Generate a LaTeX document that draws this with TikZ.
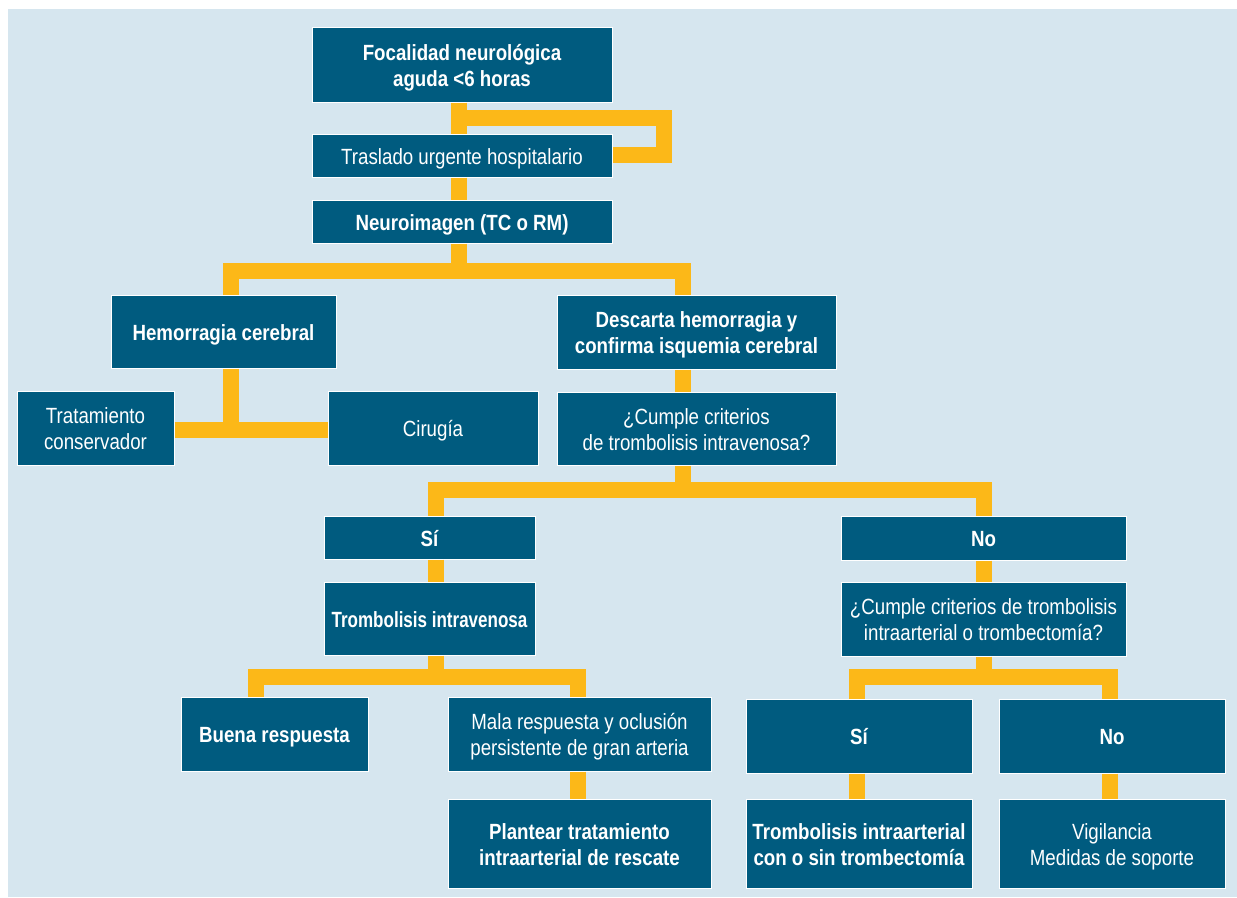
\documentclass[tikz,border=0pt]{standalone}
\usepackage{graphicx}
\usepackage{fontspec}
\setmainfont[FakeStretch=0.85]{Liberation Sans}
\definecolor{bgcol}{RGB}{214,230,239}
\definecolor{boxblue}{RGB}{0,91,127}
\definecolor{conn}{RGB}{252,184,24}
\begin{document}
\begin{tikzpicture}[x=1pt,y=-1pt,
  box/.style={fill=boxblue, draw=white, line width=1pt, text=white, align=center,
    inner sep=0pt, font=\fontsize{22}{26}\selectfont,
    execute at begin node={\rule{0pt}{24pt}},
    execute at end node={\rule[-7pt]{0pt}{0pt}}},
  boxb/.style={box, font=\fontsize{22}{26}\selectfont\bfseries},
  ml/.style={execute at begin node={\rule{0pt}{50pt}}},
  link/.style={draw=conn, line width=15.5pt, line join=miter, line cap=butt}]
\fill[white] (0,0) rectangle (1237,897);
\useasboundingbox (0,0) rectangle (1237,897);
\fill[bgcol] (8,9) rectangle (1237,897);

% x positions of connectors
\coordinate (xA) at (459,0);
\coordinate (xB) at (231,0);
\coordinate (xC) at (683,0);
\coordinate (xD) at (436,0);
\coordinate (xE) at (984,0);
\coordinate (xF) at (256,0);
\coordinate (xG) at (578,0);
\coordinate (xH) at (857,0);
\coordinate (xI) at (1110,0);

% nodes
\node[boxb, ml, minimum width=300, minimum height=75] (foc) at (462,64.5) {Focalidad neurológica\\aguda <6 horas};
\node[box, minimum width=300, minimum height=43] (tras) at (462,155.5) {Traslado urgente hospitalario};
\node[boxb, minimum width=300, minimum height=43] (neuro) at (462,221.5) {Neuroimagen (TC o RM)};
\node[boxb, minimum width=225, minimum height=73] (hem) at (223.5,331.5) {Hemorragia cerebral};
\node[box, ml, minimum width=157, minimum height=74] (trat) at (95.5,428) {Tratamiento\\conservador};
\node[box, minimum width=210, minimum height=74] (cir) at (433,428) {Cirugía};
\node[boxb, ml, minimum width=279, minimum height=74] (desc) at (696.5,332) {Descarta hemorragia y\\confirma isquemia cerebral};
\node[box, ml, minimum width=279, minimum height=73] (cum) at (696.5,428.5) {¿Cumple criterios\\de trombolisis intravenosa?};
\node[boxb, minimum width=211, minimum height=43] (si) at (429.5,537.5) {Sí};
\node[boxb, minimum width=285, minimum height=44] (no) at (983.5,538) {No};
\node[boxb, minimum width=211, minimum height=73] (tiv) at (429.5,618.5) {\scalebox{0.91}[1]{Trombolisis intravenosa}};
\node[box, ml, minimum width=285, minimum height=74] (cum2) at (983.5,619) {¿Cumple criterios de trombolisis\\intraarterial o trombectomía?};
\node[boxb, minimum width=187, minimum height=74] (buena) at (274.5,734) {Buena respuesta};
\node[box, ml, minimum width=263, minimum height=74] (mala) at (579.5,734) {Mala respuesta y oclusión\\persistente de gran arteria};
\node[boxb, ml, minimum width=263, minimum height=89] (plan) at (579.5,843.5) {Plantear tratamiento\\intraarterial de rescate};
\node[boxb, minimum width=226, minimum height=74] (si2) at (859,736) {Sí};
\node[boxb, minimum width=226, minimum height=74] (no2) at (1112,736) {No};
\node[boxb, ml, minimum width=226, minimum height=89] (tia) at (859,843.5) {Trombolisis intraarterial\\con o sin trombectomía};
\node[box, ml, minimum width=226, minimum height=89] (vig) at (1112,843.5) {Vigilancia\\Medidas de soporte};

% junction coordinates
\coordinate (loopS) at (459,118);
\coordinate (j1) at (459,271);
\coordinate (j2) at (231,430);
\coordinate (j3) at (683,490);
\coordinate (j4) at (436,677);
\coordinate (j5) at (984,677);

% connectors
\draw[link] (foc.south -| xA) -- (tras.north -| xA);
\draw[link] (loopS) -- (664,118) -- (664,155) -- (tras.east |- 0,155);
\draw[link] (tras.south -| xA) -- (neuro.north -| xA);
\draw[link] (neuro.south -| xA) -- (j1);
\draw[link] (hem.north -| xB) -- (j1 -| xB) -- (j1 -| xC) -- (desc.north -| xC);
\draw[link] (hem.south -| xB) -- (j2);
\draw[link] (trat.east |- j2) -- (cir.west |- j2);
\draw[link] (desc.south -| xC) -- (cum.north -| xC);
\draw[link] (cum.south -| xC) -- (j3);
\draw[link] (si.north -| xD) -- (j3 -| xD) -- (j3 -| xE) -- (no.north -| xE);
\draw[link] (si.south -| xD) -- (tiv.north -| xD);
\draw[link] (no.south -| xE) -- (cum2.north -| xE);
\draw[link] (tiv.south -| xD) -- (j4);
\draw[link] (buena.north -| xF) -- (j4 -| xF) -- (j4 -| xG) -- (mala.north -| xG);
\draw[link] (mala.south -| xG) -- (plan.north -| xG);
\draw[link] (cum2.south -| xE) -- (j5);
\draw[link] (si2.north -| xH) -- (j5 -| xH) -- (j5 -| xI) -- (no2.north -| xI);
\draw[link] (si2.south -| xH) -- (tia.north -| xH);
\draw[link] (no2.south -| xI) -- (vig.north -| xI);
\end{tikzpicture}
\end{document}
